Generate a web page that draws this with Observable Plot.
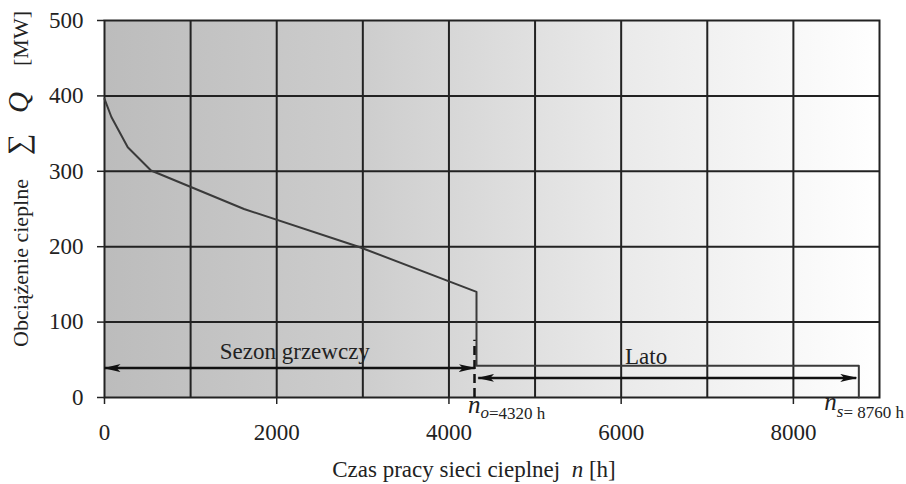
<!DOCTYPE html>
<html><head><meta charset="utf-8">
<script src="https://cdn.jsdelivr.net/npm/d3@7"></script>
<script src="https://cdn.jsdelivr.net/npm/@observablehq/plot@0.6"></script>
<style>
body{margin:0;background:#fff}
#chart svg{color:#222;overflow:visible}
#chart svg text, #chart svg tspan{font-family:"Liberation Serif","Times New Roman",serif !important}
</style>
</head><body><div id="chart"></div>
<script>
// ---- data ----
const loadHours = [0, 80, 270, 540, 1620, 2950, 4320, 4320, 8760, 8760];
const loadMW    = [396, 372, 332, 301, 250, 200, 140, 42, 42, 0];
const xTicks = [0, 2000, 4000, 6000, 8000];
const yTicks = [0, 100, 200, 300, 400, 500];
const xGridLines = [1000, 2000, 3000, 4000, 5000, 6000, 7000, 8000];
const yGridLines = [100, 200, 300, 400];
const seasonEndHours = 4320;   // n_o
const yearEndHours = 8760;     // n_s
const seasonDashTop = 76;
const arrowLabels = ["Sezon grzewczy", "Lato"];
const arrowFrom = [0, 4340];
const arrowTo   = [4300, 8730];
const arrowLevel = [39, 26];
const arrowLabelX = [2210, 6290];
const arrowLabelY = [51, 45];

const loadCurve = loadHours.map((h, i) => ({h, q: loadMW[i]}));
const arrows = arrowLabels.map((label, i) => ({label, x1: arrowFrom[i], x2: arrowTo[i], y: arrowLevel[i], lx: arrowLabelX[i], ly: arrowLabelY[i]}));

const W = 906, H = 484;
const SERIF = "Liberation Serif";

function head(color) {
  const m = d3.create("svg:marker")
    .attr("viewBox", "-16 -4 17 8")
    .attr("markerWidth", 17).attr("markerHeight", 8)
    .attr("markerUnits", "userSpaceOnUse")
    .attr("refX", 0).attr("refY", 0)
    .attr("orient", "auto-start-reverse")
    .attr("fill", color).attr("stroke", "none");
  m.append("path").attr("d", "M1,0L-16,-4L-12,0L-16,4Z");
  return m.node();
}

function gradientDefs() {
  const defs = d3.create("svg:defs");
  const g = defs.append("linearGradient").attr("id", "bgGrad").attr("x1", 0).attr("x2", 1).attr("y1", 0).attr("y2", 0);
  [[0, "#bcbcbc"], [0.33, "#cdcdcd"], [0.67, "#eaeaea"], [1, "#ffffff"]].forEach(([o, c]) =>
    g.append("stop").attr("offset", o).attr("stop-color", c));
  return defs.node();
}

function annotations(index, scales, values, dim) {
  const g = d3.create("svg:g").attr("fill", "#222").attr("font-family", SERIF).attr("text-anchor", "start");
  const xo = scales.x(seasonEndHours), xs = scales.x(yearEndHours);
  const y0 = scales.y(0);
  // n_o = 4320 h
  const t1 = g.append("text").attr("x", xo - 8).attr("y", y0 + 16);
  t1.append("tspan").attr("font-style", "italic").attr("font-size", 25).text("n");
  t1.append("tspan").attr("font-style", "italic").attr("font-size", 17).attr("dy", 5).text("o");
  t1.append("tspan").attr("font-size", 17).attr("dy", 1).text("=4320 h");
  // n_s = 8760 h
  const t2 = g.append("text").attr("x", xs - 34).attr("y", y0 + 13);
  t2.append("tspan").attr("font-style", "italic").attr("font-size", 25).text("n");
  t2.append("tspan").attr("font-style", "italic").attr("font-size", 17).attr("dy", 7).text("s");
  t2.append("tspan").attr("font-size", 17).attr("dy", 1).text("= 8760 h");
  // x title
  const tx = g.append("text").attr("x", 474).attr("y", H - 7).attr("text-anchor", "middle").attr("font-size", 23);
  tx.append("tspan").text("Czas pracy sieci cieplnej  ");
  tx.append("tspan").attr("font-style", "italic").text("n");
  tx.append("tspan").text(" [h]");
  // y title (rotated, reading upwards)
  g.append("text").attr("transform", "translate(28,347) rotate(-90)").attr("font-size", 22).text("Obciążenie cieplne");
  g.append("text").attr("transform", "translate(28,155) rotate(-90)").attr("font-size", 30).text("∑");
  g.append("text").attr("transform", "translate(28,113) rotate(-90)").attr("font-size", 29).attr("font-style", "italic").text("Q");
  g.append("text").attr("transform", "translate(28,66) rotate(-90)").attr("font-size", 22).text("[MW]");
  return g.node();
}

const plot = Plot.plot({
  width: W, height: H,
  marginLeft: 104, marginRight: 27, marginTop: 20, marginBottom: 87,
  x: {domain: [0, 9000]},
  y: {domain: [0, 500]},
  style: {fontFamily: "'Liberation Serif', serif", background: "transparent"},
  marks: [
    gradientDefs,
    Plot.frame({fill: "url(#bgGrad)", stroke: "none"}),
    Plot.gridX(xGridLines, {stroke: "#222", strokeOpacity: 1, strokeWidth: 2}),
    Plot.gridY(yGridLines, {stroke: "#222", strokeOpacity: 1, strokeWidth: 2}),
    Plot.frame({stroke: "#222", strokeWidth: 2}),
    Plot.axisX(xTicks, {tickSize: 7, tickPadding: 19, fontSize: 23, stroke: "#222", strokeWidth: 1.5, tickFormat: d => String(d), label: null}),
    Plot.axisY(yTicks, {tickSize: 7, tickPadding: 14, fontSize: 23, stroke: "#222", strokeWidth: 1.5, tickFormat: d => String(d), label: null}),
    Plot.line(loadCurve, {x: "h", y: "q", stroke: "#3a3a3a", strokeWidth: 2}),
    Plot.ruleX([seasonEndHours], {y1: 0, y2: seasonDashTop, stroke: "#111", strokeWidth: 2.5, strokeDasharray: "9,5", dx: -2}),
    Plot.link(arrows, {x1: "x1", x2: "x2", y1: "y", y2: "y", stroke: "#111", strokeWidth: 2.5, markerStart: head, markerEnd: head}),
    Plot.text(arrows, {x: "lx", y: "ly", text: "label", fontSize: 23, fill: "#222", textAnchor: "middle", lineAnchor: "bottom"}),
    annotations
  ]
});
document.getElementById("chart").append(plot);
</script>
</body></html>
